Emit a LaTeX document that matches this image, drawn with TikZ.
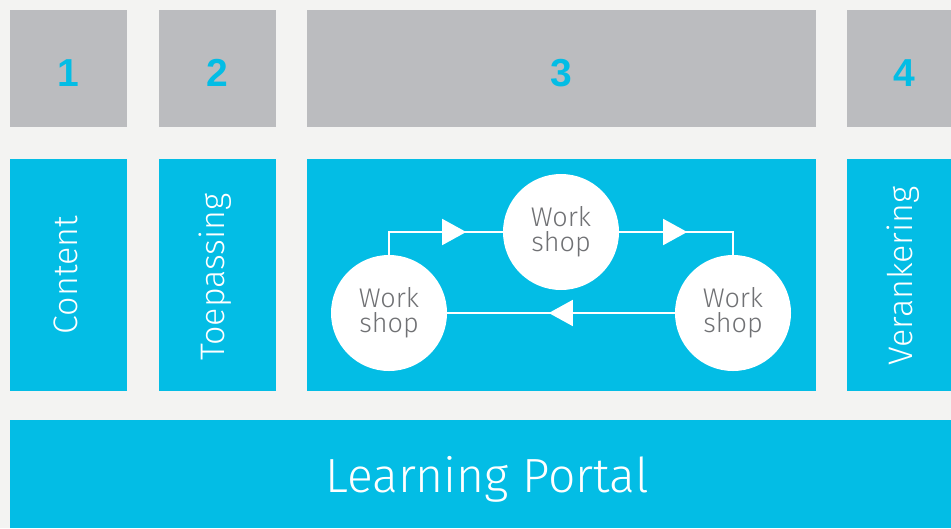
\documentclass[tikz,border=0pt]{standalone}
\usepackage{fontspec}
\setmainfont{Fira Sans}
\newfontfamily\lightf{Fira Sans Light}
\newfontfamily\numf{Liberation Sans}
\usetikzlibrary{decorations.markings,arrows.meta}
\definecolor{bg}{HTML}{F3F3F2}
\definecolor{cy}{HTML}{03BDE5}
\definecolor{gr}{HTML}{BBBCBF}
\definecolor{tg}{HTML}{707174}
\tikzset{
  gbox/.style={fill=gr, inner sep=0pt},
  num/.style={inner sep=0pt, text=cy, font=\numf\bfseries\fontsize{39}{39}\selectfont},
  bbox/.style={fill=cy, inner sep=0pt},
  vlabel/.style={rotate=90, text=white, inner sep=0pt, font=\lightf\fontsize{34}{34}\selectfont},
  ws/.style={circle, fill=white, minimum size=116pt, inner sep=0pt, align=center, text=tg,
    font=\lightf\fontsize{27}{25}\selectfont},
  flow/.style={draw=white, line width=1.6pt},
  tip/.style={postaction={decorate, decoration={markings, mark=at position #1 with {\arrow[white]{Triangle[width=26pt,length=24pt]}}}}}
}
\begin{document}
\begin{tikzpicture}[x=1pt,y=-1pt]
\fill[bg] (0,0) rectangle (951,528);
\useasboundingbox (0,0) rectangle (951,528);
% top grey boxes
\node[gbox, minimum width=117pt, minimum height=117pt] (g1) at (68.5,68.5) {};
\node[gbox, minimum width=117pt, minimum height=117pt] (g2) at (217.5,68.5) {};
\node[gbox, minimum width=509pt, minimum height=117pt] (g3) at (561.5,68.5) {};
\node[gbox, minimum width=104pt, minimum height=117pt] (g4) at (899,68.5) {};
\node[num] (n1) at (68,73) {1};
\node[num] (n2) at (217,73) {2};
\node[num] (n3) at (561,73) {3};
\node[num] (n4) at (904,73) {4};
% blue boxes
\node[bbox, minimum width=117pt, minimum height=232pt] (b1) at (68.5,275) {};
\node[bbox, minimum width=117pt, minimum height=232pt] (b2) at (217.5,275) {};
\node[bbox, minimum width=509pt, minimum height=232pt] (b3) at (561.5,275) {};
\node[bbox, minimum width=104pt, minimum height=232pt] (b4) at (899,275) {};
\node[vlabel] (t1) at (66,275) {Content};
\node[vlabel] (t2) at (215,277) {Toepassing};
\node[vlabel] (t4) at (903,276) {Verankering};
% learning portal
\node[bbox, minimum width=941pt, minimum height=108pt] (lp) at (480.5,474) {};
\node[anchor=base, inner sep=0pt, text=white, font=\lightf\fontsize{48}{48}\selectfont] (lpt) at (487,492) {Learning Portal};
% workshop cycle
\node[ws] (wl) at (389,313) {Work\\shop};
\node[ws] (wm) at (561,232) {Work\\shop};
\node[ws] (wr) at (733,313) {Work\\shop};
\draw[flow, tip=100pt] (wl.north) |- (wm.west);
\draw[flow, tip=68pt] (wm.east) -| (wr.north);
\draw[flow, tip=126pt] (wr.west) -- (wl.east);
\end{tikzpicture}
\end{document}
